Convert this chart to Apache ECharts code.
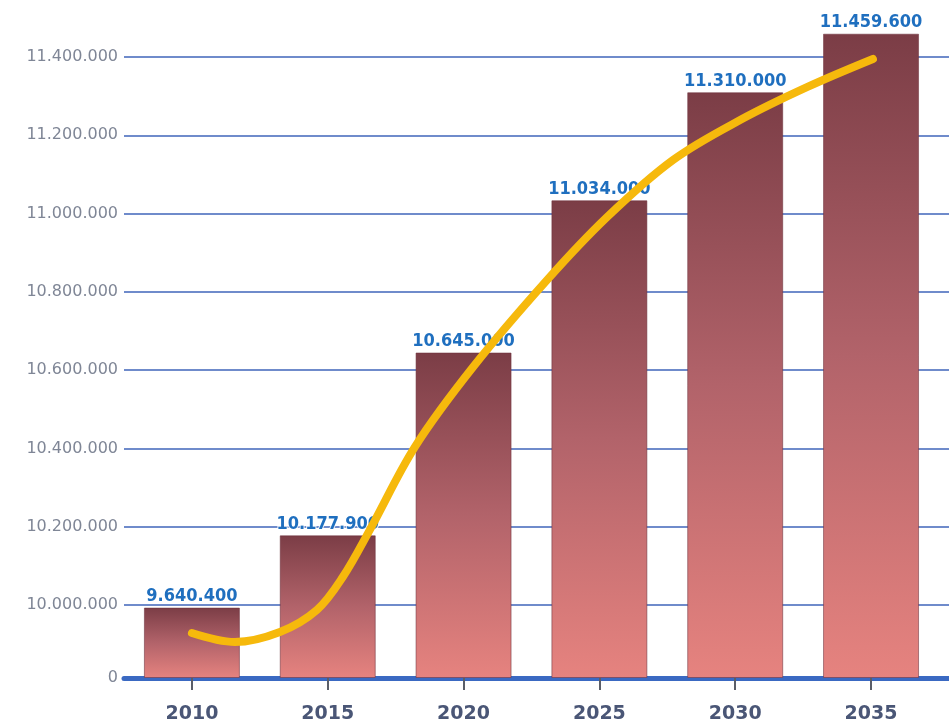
<!DOCTYPE html>
<html>
<head>
<meta charset="utf-8">
<script src="https://cdn.jsdelivr.net/npm/echarts@6/dist/echarts.min.js"></script>
<style>
  html, body { margin: 0; padding: 0; background: #ffffff; }
  #chart { width: 949px; height: 725px; }
</style>
</head>
<body>
<div id="chart"></div>
<script>
// Population by year
const years = [2010, 2015, 2020, 2025, 2030, 2035];
const population = [9640400, 10177900, 10645000, 11034000, 11310000, 11459600];

// Values shown on the (broken) vertical axis
const yTicks = [0, 10000000, 10200000, 10400000, 10600000, 10800000, 11000000, 11200000, 11400000];

// Hand-drawn trend curve through the bars
const trendYears = [2010.0, 2011.58, 2013.24, 2014.60, 2015.56, 2016.55, 2018.21,
                    2020.35, 2023.07, 2025.28, 2027.71, 2030.18, 2032.64, 2035.07];
const trendValues = [6162000, 4929000, 6299000, 9311000, 10072000, 10192000, 10404000,
                     10608000, 10830000, 10991000, 11137000, 11239000, 11323000, 11395000];

// Axis is compressed below 10 million: 0..10M takes a bit less than one 200k step.
const BREAK_AT = 10000000;
const STEP = 200000;
const LOWER_SPAN = 0.933;
function toAxis(v) {
  return v <= BREAK_AT ? v / BREAK_AT * LOWER_SPAN : LOWER_SPAN + (v - BREAK_AT) / STEP;
}
function fromAxis(p) {
  return p <= LOWER_SPAN ? p / LOWER_SPAN * BREAK_AT : BREAK_AT + (p - LOWER_SPAN) * STEP;
}
function fmt(n) {
  return String(n).replace(/\B(?=(\d{3})+(?!\d))/g, '.');
}

const yTickPos = yTicks.map(toAxis);

const chart = echarts.init(document.getElementById('chart'), null, { renderer: 'canvas' });

chart.setOption({
  backgroundColor: '#ffffff',
  animation: false,
  grid: { left: 124, right: 0, top: 20, bottom: 47, containLabel: false },
  xAxis: {
    type: 'value',
    min: 2007.5,
    max: 2037.87,
    splitLine: { show: false },
    axisLine: { show: true, lineStyle: { color: '#3a69c2', width: 5 } },
    axisTick: {
      show: true,
      customValues: years,
      length: 12,
      lineStyle: { color: '#5a5e68', width: 2 }
    },
    axisLabel: {
      customValues: years,
      margin: 27,
      color: '#4a5676',
      fontFamily: 'DejaVu Sans',
      fontWeight: 'bold',
      fontSize: 19,
      formatter: v => String(Math.round(v))
    }
  },
  yAxis: {
    type: 'value',
    min: 0,
    max: 8.406,
    axisLine: { show: false },
    axisTick: { show: false, customValues: yTickPos },
    splitLine: {
      show: true,
      customValues: yTickPos,
      lineStyle: { color: '#6f8bcb', width: 2 }
    },
    axisLabel: {
      customValues: yTickPos,
      margin: 6,
      color: '#7f8696',
      fontFamily: 'DejaVu Sans',
      fontSize: 16,
      formatter: p => fmt(Math.round(fromAxis(p) / 1000) * 1000)
    }
  },
  series: [
    {
      type: 'bar',
      z: 2,
      barWidth: 96,
      data: years.map((y, i) => [y, toAxis(population[i])]),
      itemStyle: {
        color: new echarts.graphic.LinearGradient(0, 0, 0, 1, [
          { offset: 0, color: '#7b3d46' },
          { offset: 0.5, color: '#b2636a' },
          { offset: 1, color: '#e6837f' }
        ]),
        borderColor: 'rgba(110,50,60,0.55)',
        borderWidth: 1
      },
      label: {
        show: true,
        position: 'top',
        distance: 2,
        color: '#1f6fbf',
        fontFamily: 'DejaVu Sans Condensed, Liberation Sans Narrow, sans-serif',
        fontWeight: 'bold',
        fontSize: 18,
        textBorderColor: 'rgba(255,255,255,0.85)',
        textBorderWidth: 2,
        formatter: p => fmt(population[p.dataIndex])
      }
    },
    {
      type: 'line',
      z: 5,
      smooth: 0.35,
      symbol: 'none',
      data: trendYears.map((y, i) => [y, toAxis(trendValues[i])]),
      lineStyle: { color: '#f6b90c', width: 8, cap: 'round', join: 'round' }
    }
  ]
});
</script>
</body>
</html>
